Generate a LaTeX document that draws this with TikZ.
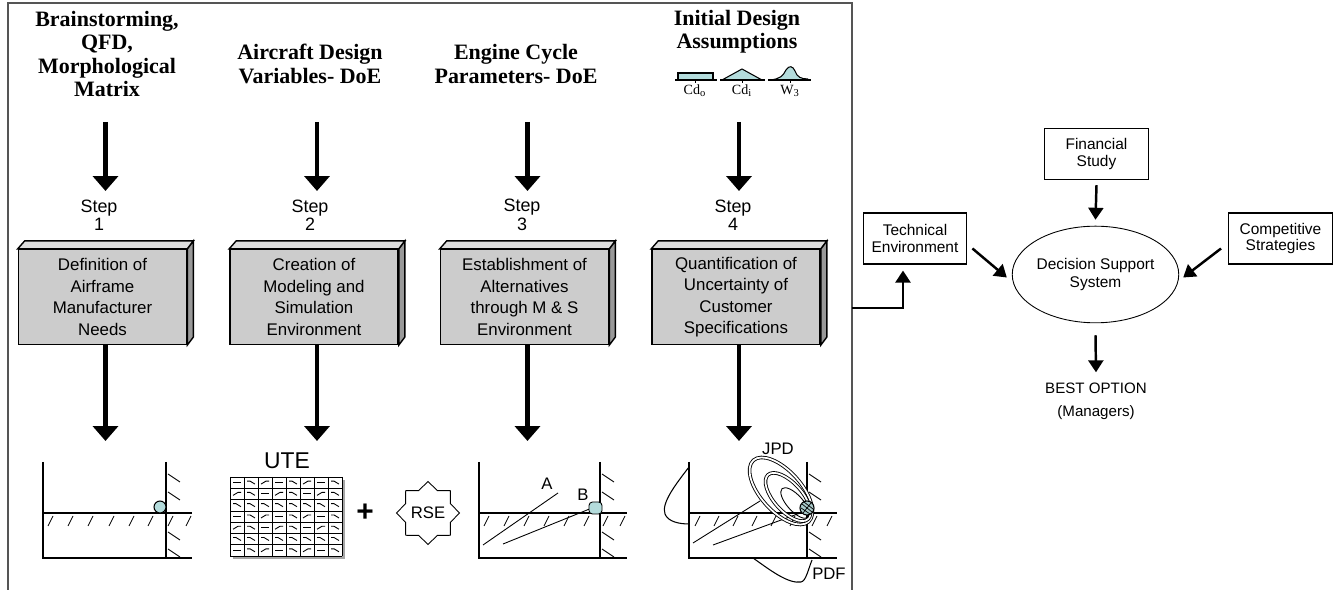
\documentclass[tikz,border=0pt]{standalone}
\usepackage{fontspec}
\setmainfont{Liberation Serif}
\setsansfont{Liberation Sans}
\usetikzlibrary{arrows.meta,shapes.geometric,calc}
\definecolor{boxfront}{HTML}{CCCCCC}
\definecolor{boxtop}{HTML}{DDDDDD}
\definecolor{boxside}{HTML}{999999}
\definecolor{ltblue}{HTML}{B4DCDC}
\definecolor{framegray}{HTML}{555555}
\newcommand\boxfaces[1]{%
  \filldraw[fill=boxtop, line width=0.8pt] (#1.north west) -- ++(7,-8) -- ($(#1.north east)+(6,-8)$) -- (#1.north east) -- cycle;
  \filldraw[fill=boxside, line width=0.8pt] (#1.north east) -- ++(6,-8) -- ($(#1.south east)+(6,-8)$) -- (#1.south east) -- cycle;}
\begin{document}
\begin{tikzpicture}[x=0.02cm,y=-0.02cm,
  title/.style={font=\fontsize{12.5}{13.3}\selectfont\bfseries, align=center, inner sep=0pt},
  steplbl/.style={font=\sffamily\fontsize{10.2}{10.5}\selectfont, align=center, inner sep=0pt},
  stepbox/.style={draw=black, line width=0.8pt, fill=boxfront, minimum width=95.8pt, minimum height=53.9pt, inner sep=0pt, align=center, font=\sffamily\fontsize{9.6}{12.2}\selectfont},
  bigarrow/.style={line width=2.8pt, -{Triangle[width=14.2pt,length=8.5pt]}},
  axis/.style={line width=0.6pt},
  hatch/.style={line width=0.5pt},
  dist/.style={font=\fontsize{8}{9}\selectfont, inner sep=0pt},
  rbox/.style={draw, line width=0.7pt, minimum width=59pt, minimum height=29pt, align=center, font=\sffamily\fontsize{8.8}{9.6}\selectfont, inner sep=0pt},
  rarrow/.style={line width=1.4pt, -{Triangle[width=8.5pt,length=6.8pt]}},
  rtext/.style={font=\sffamily\fontsize{8.6}{10}\selectfont, inner sep=0pt},
  figlbl/.style={font=\sffamily\fontsize{9.5}{10}\selectfont, inner sep=0pt},
]
\useasboundingbox (0,0) rectangle (1333,590);
\fill[white] (0,0) rectangle (1333,590);
% frame
\draw[framegray, line width=0.9pt] (8,3) rectangle (852,600);

% titles
\node[title] (t1) at (107,54) {Brainstorming,\\QFD,\\Morphological\\Matrix};
\node[title] (t2) at (310,64) {Aircraft Design\\Variables- DoE};
\node[title] (t3) at (516,64) {Engine Cycle\\Parameters- DoE};
\node[title] (t4) at (737,32) {Initial Design\\Assumptions};

% distributions
\begin{scope}[yshift=0.18cm]
\fill[ltblue] (678,82) rectangle (713,89);
\draw[axis] (678,89) -- (678,82) -- (713,82) -- (713,89);
\draw[axis] (675,89) -- (717,89);
\draw[hatch] (695,89) -- (695,92);
\fill[ltblue] (722,89) -- (742,78) -- (762,89) -- cycle;
\draw[axis] (722,89) -- (742,78) -- (762,89);
\draw[axis] (720,89) -- (765,89);
\draw[hatch] (742,89) -- (742,92);
\fill[ltblue] (770,89) .. controls (780,88) and (783,85) .. (786,79) .. controls (789,74) and (793,75) .. (795,80) .. controls (797,86) and (801,88) .. (808,88) -- (808,89) -- cycle;
\draw[axis] (770,89) .. controls (780,88) and (783,85) .. (786,79) .. controls (789,74) and (793,75) .. (795,80) .. controls (797,86) and (801,88) .. (808,88);
\draw[axis] (768,89) -- (811,89);
\draw[hatch] (790,89) -- (790,92);
\node[dist] (cd0) at (695,100) {Cd\textsubscript{o}};
\node[dist] (cdi) at (742,100) {Cd\textsubscript{i}};
\node[dist] (w3) at (790,100) {W\textsubscript{3}};
\end{scope}

% step labels
\node[steplbl] (s1) at (99,215) {Step\\1};
\node[steplbl] (s2) at (310,215) {Step\\2};
\node[steplbl] (s3) at (522,215) {Step\\3};
\node[steplbl] (s4) at (733,215) {Step\\4};

% upper arrows
\coordinate (u1) at (105.5,122); \coordinate (d1) at (105.5,191);
\coordinate (u2) at (317,122);   \coordinate (d2) at (317,191);
\coordinate (u3) at (527.5,122); \coordinate (d3) at (527.5,191);
\coordinate (u4) at (739,122);   \coordinate (d4) at (739,191);
\draw[bigarrow] (u1) -- (d1);
\draw[bigarrow] (u2) -- (d2);
\draw[bigarrow] (u3) -- (d3);
\draw[bigarrow] (u4) -- (d4);

% boxes
\node[stepbox] (b1) at (102.5,297) {Definition of\\Airframe\\Manufacturer\\Needs};
\node[stepbox] (b2) at (314,297) {Creation of\\Modeling and\\Simulation\\Environment};
\node[stepbox] (b3) at (524.5,297) {Establishment of\\Alternatives\\through M \& S\\Environment};
\node[stepbox] (b4) at (736,297) {Quantification of\\Uncertainty of\\Customer\\Specifications};
\boxfaces{b1}\boxfaces{b2}\boxfaces{b3}\boxfaces{b4}

% lower arrows
\coordinate (l1) at (105.5,441);
\coordinate (l2) at (317,441);
\coordinate (l3) at (527.5,441);
\coordinate (l4) at (739,441);
\draw[bigarrow] (b1.south -| l1) -- (l1);
\draw[bigarrow] (b2.south -| l2) -- (l2);
\draw[bigarrow] (b3.south -| l3) -- (l3);
\draw[bigarrow] (b4.south -| l4) -- (l4);

% figure 1
\draw[axis] (43,462) -- (43,558) -- (192,558);
\draw[axis] (166,462) -- (166,558);
\draw[axis] (43,513) -- (192,513);
\foreach \x in {48,68,88,109,129,148,168,186} \draw[hatch] (\x,526) -- ++(5,-10);
\foreach \y in {474,492,532,549} \draw[hatch] (168,\y) -- ++(12,8);
\filldraw[fill=ltblue, line width=0.6pt] (160,507) circle [radius=3.4pt];

% figure 2: UTE grid
\node[font=\sffamily\fontsize{13}{14}\selectfont, inner sep=0pt] (ute) at (287,461) {UTE};
\fill[gray!70] (233,480) rectangle (345,559);
\fill[white] (230,477) rectangle (342,556);
\foreach \i in {0,...,8} \draw[line width=0.4pt] (230+14*\i,477) -- (230+14*\i,556);
\foreach \j in {0,...,7} \draw[line width=0.4pt] (230,477+11.286*\j) -- (342,477+11.286*\j);
\foreach \i in {0,...,7} {
  \foreach \j in {0,...,6} {
    \pgfmathtruncatemacro\t{mod(\i*7+\j*5+\i*\j,3)}
    \pgfmathsetmacro\cx{237+14*\i}
    \pgfmathsetmacro\cy{482.6+11.286*\j}
    \ifnum\t=0 \draw[line width=0.5pt] (\cx-4,\cy) -- (\cx+4,\cy);\fi
    \ifnum\t=1 \draw[line width=0.5pt] (\cx-4,\cy-1.5) -- (\cx-1,\cy-1.5) -- (\cx+4,\cy+1.5);\fi
    \ifnum\t=2 \draw[line width=0.5pt] (\cx-4,\cy+1.5) -- (\cx+1,\cy-1.5) -- (\cx+4,\cy-1.5);\fi
  }
}
\node[font=\sffamily\bfseries\fontsize{17}{17}\selectfont, inner sep=0pt] (plus) at (365,513) {+};
\node[draw, star, star points=8, star point ratio=1.3, minimum size=32pt, inner sep=0pt, line width=0.5pt, figlbl] (rse) at (428,513) {RSE};

% figure 3
\draw[axis] (479,462) -- (479,558) -- (627,558);
\draw[axis] (600,462) -- (600,558);
\draw[axis] (479,513) -- (627,513);
\foreach \x in {484,504,524,544,564,584,603,620} \draw[hatch] (\x,526) -- ++(5,-10);
\foreach \y in {474,492,532,549} \draw[hatch] (602,\y) -- ++(12,8);
\coordinate (ae) at (558,493);
\coordinate (be) at (592,508);
\draw[hatch] (483,545) -- (ae);
\draw[hatch] (503,544) -- (be);
\node[figlbl] (la) at (547,484) {A};
\node[figlbl] (lb) at (583,495) {B};
\filldraw[fill=ltblue, line width=0.5pt, rounded corners=2pt] (589,502) rectangle (602,514);

% figure 4
\draw[axis] (689,462) -- (689,558) -- (837,558);
\draw[axis] (807,462) -- (807,558);
\draw[axis] (689,513) -- (837,513);
\foreach \x in {695,714,733,752,771,790,812,827} \draw[hatch] (\x,526) -- ++(5,-10);
\foreach \y in {474,492,532,549} \draw[hatch] (809,\y) -- ++(12,8);
\draw[hatch] (693,543) -- (760,501);
\draw[hatch] (713,545) -- (803,512);
\draw[line width=0.6pt] (689,467) .. controls (676,484) and (661,503) .. (665,514) .. controls (668,522) and (680,524) .. (689,524);
\draw[line width=0.6pt] (753,558) .. controls (770,570) and (788,584) .. (801,582) .. controls (806,581) and (808,570) .. (812,560);
\node[figlbl] (pdf) at (829,574) {PDF};
\draw[line width=0.5pt, double, double distance=1pt, rotate around={-48:(781,491)}] (781,491) ellipse [x radius=23.5pt, y radius=11.5pt];
\draw[line width=0.5pt, double, double distance=1pt, rotate around={-48:(788,497)}] (788,497) ellipse [x radius=17pt, y radius=8pt];
\draw[line width=0.5pt, rotate around={-48:(795,503)}] (795,503) ellipse [x radius=11pt, y radius=4.5pt];
\node[figlbl] (jpd) at (778,449) {JPD};
\filldraw[fill=ltblue!80!gray, line width=0.6pt] (807,508) circle [radius=4pt];
\draw[line width=0.4pt] (802,504) -- (812,512) (801,508) -- (810,514) (804,502) -- (813,509) (803,513) -- (811,503);

% right part
\node[rbox] (fin) at (1096.5,154) {Financial\\Study};
\node[rbox] (tech) at (915,238.5) {Technical\\Environment};
\node[rbox] (comp) at (1280.5,238.5) {Competitive\\Strategies};
\node[draw, ellipse, line width=0.5pt, minimum width=76.5pt, minimum height=55pt, inner sep=0pt, align=center, font=\sffamily\fontsize{8.8}{10}\selectfont] (dss) at (1095.5,274.5) {Decision Support\\System};
\node[rtext] (best) at (1096,388) {BEST OPTION};
\node[rtext] (mgr) at (1096,413) {(Managers)};
\draw[rarrow] ($(fin.south)+(0,5)$) -- ($(dss.north)+(0,-6)$);
\draw[rarrow] ($(tech.east)+(5,10)$) -- ($(dss.west)+(-5,3)$);
\draw[rarrow] ($(comp.west)+(-7,10)$) -- ($(dss.east)+(4,3)$);
\draw[rarrow] ($(dss.south)+(0,12)$) -- ($(best.north)+(0,-10)$);
\coordinate (fr) at (852,308);
\draw[rarrow] (fr) -| ($(tech.south)+(-12,6)$);
\end{tikzpicture}
\end{document}
